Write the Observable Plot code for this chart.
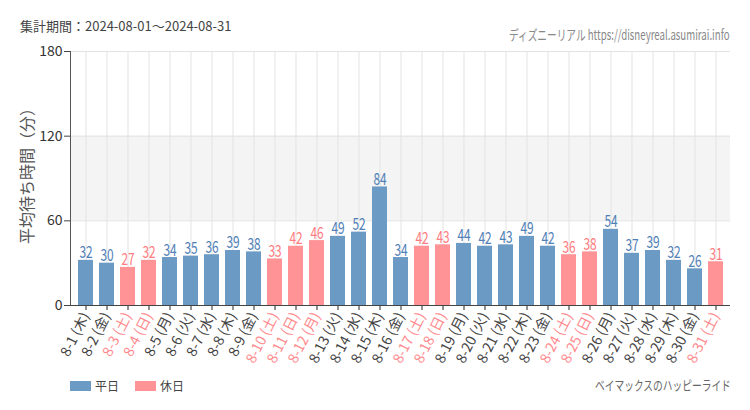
<!DOCTYPE html>
<html><head><meta charset="utf-8">
<script src="https://cdn.jsdelivr.net/npm/d3@7"></script>
<script src="https://cdn.jsdelivr.net/npm/@observablehq/plot@0.6"></script>
<style>
body{margin:0;background:#fff;}
#c svg{display:block;}
</style></head><body><div id="c"></div>
<script>
const dates = ["8-1","8-2","8-3","8-4","8-5","8-6","8-7","8-8","8-9","8-10","8-11","8-12","8-13","8-14","8-15","8-16","8-17","8-18","8-19","8-20","8-21","8-22","8-23","8-24","8-25","8-26","8-27","8-28","8-29","8-30","8-31"];
const weekdays = ["木","金","土","日","月","火","水","木","金","土","日","月","火","水","木","金","土","日","月","火","水","木","金","土","日","月","火","水","木","金","土"];
const waits = [32,30,27,32,34,35,36,39,38,33,42,46,49,52,84,34,42,43,44,42,43,49,42,36,38,54,37,39,32,26,31];
const holidays = ["8-3","8-4","8-10","8-11","8-12","8-17","8-18","8-24","8-25","8-31"];
const yTicks = [0,60,120,180];
const bandRange = [60,120];
const legendItems = ["平日","休日"];
const titleText = "集計期間：2024-08-01～2024-08-31";
const sourceText = "ディズニーリアル https://disneyreal.asumirai.info";
const attractionText = "ベイマックスのハッピーライド";
const yLabel = "平均待ち時間（分）";

const colors = {平日:"#6b9ac4", 休日:"#ff9396"};
const textColors = {平日:"#4f80b6", 休日:"#ff7c80"};

const data = dates.map((d,i)=>({
  label: `${d} (${weekdays[i]})`,
  value: waits[i],
  type: holidays.includes(d) ? "休日" : "平日"
}));
const labels = data.map(d=>d.label);
const typeOf = new Map(data.map(d=>[d.label,d.type]));

const jp = "'Noto Sans CJK JP','Noto Sans',sans-serif";

const chart = Plot.plot({
  width: 750, height: 410,
  marginLeft: 70, marginRight: 20, marginTop: 51, marginBottom: 105,
  style: {fontFamily: jp, background: "#fff"},
  x: {domain: labels, paddingInner: 0.3, paddingOuter: 0.15, axis: null},
  y: {domain: [0,180], axis: null},
  marks: [
    Plot.rect([bandRange], {y1: d=>d[0], y2: d=>d[1], fill: "#f3f4f3"}),
    Plot.ruleX(labels, {x: d=>d, stroke: "#e3e3e3", strokeWidth: 1}),
    Plot.ruleY(yTicks.slice(1), {stroke: "#e3e3e3"}),
    Plot.barY(data, {x: "label", y: "value", fill: d=>colors[d.type]}),
    Plot.text(data, {x: "label", y: "value", text: d=>String(d.value), dy: -2, lineAnchor: "bottom",
      fill: d=>textColors[d.type], fontSize: 17}),
    Plot.axisY({ticks: yTicks, tickSize: 6, fontSize: 14, label: null, stroke: "#444", fill: "#333", tickPadding: 2}),
    Plot.axisX({tickSize: 5, tickRotate: -63, fontSize: 14, label: null, stroke: "#222", tickPadding: 3}),
    Plot.frame({anchor: "left", stroke: "#555"}),
    Plot.ruleY([0], {stroke: "#444"})
  ]
});
document.getElementById("c").append(chart);

const svg = d3.select(chart);
svg.selectAll('g[aria-label="x-axis tick label"] text').each(function(){
  const t = d3.select(this).text();
  d3.select(this).attr("fill", typeOf.get(t) === "休日" ? "#ff8a8d" : "#444");
});
// condensed bar value labels
svg.selectAll('g[aria-label="text"] text').each(function(){
  const el = d3.select(this);
  const w = this.getComputedTextLength();
  const target = 6.6 * el.text().length;
  const tr = el.attr("transform") || "";
  el.attr("transform", `${tr} scale(${(target / w).toFixed(3)},1)`);
});

const add = (x,y,anchor,size,fill,txt,len)=>{
  const t = svg.append("text").attr("text-anchor", anchor)
    .attr("font-size", size).attr("fill", fill).attr("font-family", jp).text(txt);
  let sx = 1;
  if (len) sx = len / t.node().getComputedTextLength();
  t.attr("transform", `translate(${x},${y}) scale(${sx.toFixed(3)},1)`);
  return t;
};
add(20, 31, "start", 13, "#444", titleText);
add(509, 40, "start", 14, "#888", sourceText, 221);
add(595, 390, "start", 13, "#666", attractionText, 136);
svg.append("text").attr("transform","translate(33,172) rotate(-90)").attr("text-anchor","middle")
  .attr("font-size", 16).attr("fill","#555").attr("font-family", jp).text(yLabel);

legendItems.forEach((k,i)=>{
  const x0 = 70 + i*65;
  svg.append("rect").attr("x", x0).attr("y", 381).attr("width", 21).attr("height", 10).attr("fill", colors[k]);
  add(x0+25, 391, "start", 12, "#444", k, 24);
});
</script>
</body></html>
